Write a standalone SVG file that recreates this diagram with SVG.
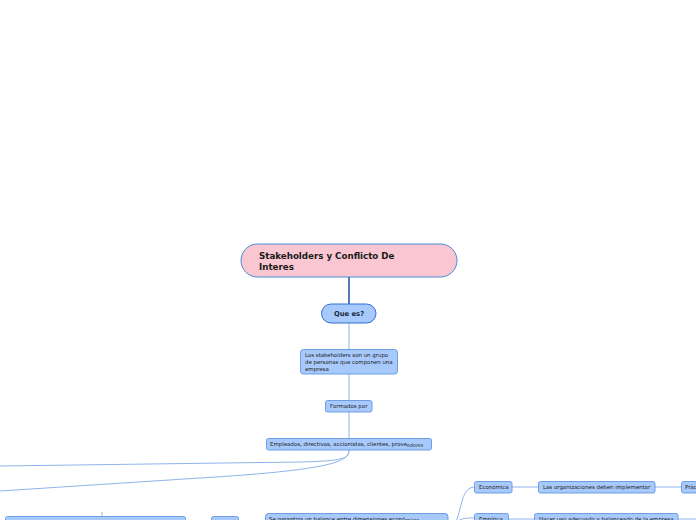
<svg xmlns="http://www.w3.org/2000/svg" width="696" height="520" viewBox="0 0 696 520">
<style>
.n{fill:#a8c9fb;stroke:#6d9fe6;stroke-width:1}
.t{font-family:"DejaVu Sans",Verdana,sans-serif;font-size:5.45px;fill:#1b1b1b}
.c{fill:none;stroke:#8fb3ec;stroke-width:1}
</style>
<rect width="696" height="520" fill="#ffffff"/>
<g id="connectors">
<line x1="349" y1="277" x2="349" y2="304" stroke="#1d4f9e" stroke-width="1.5"/>
<line class="c" x1="349" y1="323" x2="349" y2="349"/>
<line class="c" x1="349" y1="374" x2="349" y2="400"/>
<line class="c" x1="349" y1="412" x2="349" y2="438"/>
<path class="c" d="M349,450 C349,458 345,461 300,462 L0,466"/>
<path class="c" d="M349,450 C349,462 330,470 200,478 L0,491"/>
<line class="c" x1="102" y1="516" x2="102" y2="512"/>
<path class="c" d="M456,522 C462,506 462,488 474,487"/>
<path class="c" d="M456,522 C462,518 466,518 474,518"/>
<line class="c" x1="512" y1="487" x2="538" y2="487"/>
<line class="c" x1="655" y1="487" x2="681" y2="487"/>
<line class="c" x1="508" y1="519" x2="534" y2="519"/>
<line class="c" x1="678" y1="519" x2="696" y2="519"/>
</g>
<g id="root">
<rect x="241" y="244" width="216" height="33" rx="16.5" fill="#f9c6d1" stroke="#4a8ad6" stroke-width="1"/>
<text x="259" y="259" font-family="DejaVu Sans,Verdana,sans-serif" font-size="8.7" font-weight="bold" fill="#1a1a1a">Stakeholders y Conflicto De</text>
<text x="259" y="270" font-family="DejaVu Sans,Verdana,sans-serif" font-size="8.7" font-weight="bold" fill="#1a1a1a">Interes</text>
</g>
<g id="que-es">
<rect x="321.5" y="304" width="54.5" height="19" rx="9.5" fill="#a8c9fb" stroke="#2d6fd0" stroke-width="1"/>
<text x="349" y="316" text-anchor="middle" font-family="DejaVu Sans,Verdana,sans-serif" font-size="6.8" font-weight="bold" fill="#1a2a3a">Que es?</text>
</g>
<g id="definicion">
<rect class="n" x="300.5" y="349.5" width="97" height="24.5" rx="3"/>
<text class="t" x="305" y="357">Los stakeholders son un grupo</text>
<text class="t" x="305" y="364">de personas que componen una</text>
<text class="t" x="305" y="371">empresa</text>
</g>
<g id="formados">
<rect class="n" x="325.5" y="400.5" width="46.5" height="11.5" rx="2"/>
<text class="t" x="330" y="408.3">Formados por</text>
</g>
<g id="empleados">
<rect class="n" x="266.5" y="438.5" width="165" height="11.5" rx="2"/>
<text class="t" x="270" y="445.8" font-size="5.3">Empleados, directivos, accionistas, clientes, prove<tspan font-size="4.8" dy="0.9">edores</tspan></text>
</g>
<g id="nodo-izq-1">
<rect class="n" x="5.5" y="516.5" width="180" height="10" rx="2"/>
</g>
<g id="nodo-izq-2">
<rect class="n" x="211.5" y="516.5" width="27" height="10" rx="2"/>
</g>
<g id="balance">
<rect class="n" x="265.5" y="513.5" width="182.5" height="12" rx="3"/>
<text class="t" x="269" y="520.8">Se garantiza un balance entre dimensiones econó<tspan font-size="4.8" dy="0.9">micas</tspan></text>
</g>
<g id="economica">
<rect class="n" x="474.5" y="481.5" width="37.5" height="11.5" rx="2"/>
<text class="t" x="479" y="489.3">Económica</text>
</g>
<g id="implementar">
<rect class="n" x="538.5" y="481.5" width="116.5" height="11.5" rx="2"/>
<text class="t" x="543" y="489.3">Las organizaciones deben implementar</text>
</g>
<g id="practicas">
<rect class="n" x="681.5" y="481.5" width="30" height="11.5" rx="2"/>
<text class="t" x="685" y="489.3">Prác</text>
</g>
<g id="empirica">
<rect class="n" x="474.5" y="513.5" width="34" height="12" rx="2"/>
<text class="t" x="479" y="520.8">Empírica</text>
</g>
<g id="uso">
<rect class="n" x="534.5" y="513.5" width="143.5" height="12" rx="2"/>
<text class="t" x="539" y="520.8">Hacer uso adecuado y balanceado de la empresa</text>
</g>
</svg>
